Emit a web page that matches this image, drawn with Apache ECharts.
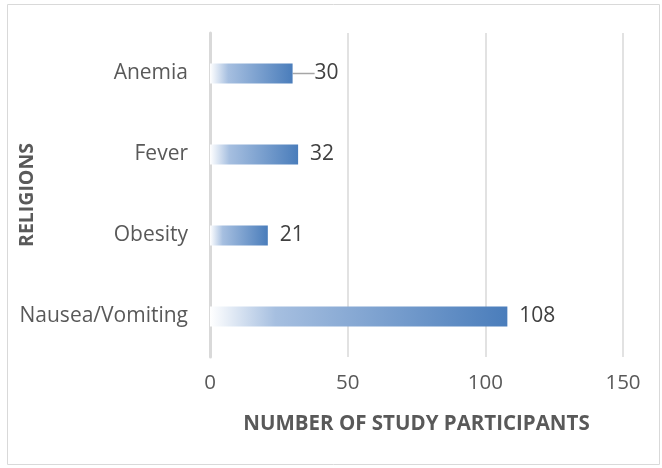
<!DOCTYPE html>
<html>
<head>
<meta charset="utf-8">
<script src="https://cdn.jsdelivr.net/npm/echarts@6/dist/echarts.min.js"></script>
<style>
  html, body { margin: 0; padding: 0; background: #fff; }
  #main { width: 662px; height: 468px; }
</style>
</head>
<body>
<div id="main"></div>
<script>
const categories = ["Nausea/Vomiting", "Obesity", "Fever", "Anemia"];
const participants = [108, 21, 32, 30];
const xTicks = [0, 50, 100, 150];

const chart = echarts.init(document.getElementById("main"));
const textColor = "#595959";
const font = "'Open Sans', sans-serif";

// only the Anemia label has a leader line in the original
const barData = participants.map((v, i) =>
    i === 3 ? { value: v, labelLine: { show: true } } : v
);

const option = {
    animation: false,
    graphic: [{
        type: "rect",
        shape: { x: 7.5, y: 4.5, width: 652, height: 460 },
        style: { fill: "none", stroke: "#d9d9d9", lineWidth: 1 },
        silent: true
    }],
    grid: { left: 210, right: 39, top: 33, bottom: 111, outerBoundsMode: "none", containLabel: false },
    xAxis: {
        type: "value",
        min: xTicks[0],
        max: xTicks[xTicks.length - 1],
        interval: 50,
        name: "NUMBER OF STUDY PARTICIPANTS",
        nameLocation: "middle",
        nameGap: 57,
        nameMoveOverlap: false,
        nameTextStyle: { color: textColor, fontSize: 20.5, fontWeight: "bold", fontFamily: font },
        axisLine: { show: false },
        axisTick: { show: false },
        axisLabel: { color: textColor, fontSize: 20.5, fontFamily: font, margin: 16 },
        splitLine: { lineStyle: { color: "#d9d9d9", width: 1.5 } }
    },
    yAxis: {
        type: "category",
        data: categories,
        name: "RELIGIONS",
        nameLocation: "middle",
        nameGap: 173,
        nameMoveOverlap: false,
        nameRotate: 90,
        nameTextStyle: { color: textColor, fontSize: 19.5, fontWeight: "bold", fontFamily: font },
        axisLine: { lineStyle: { color: "#d9d9d9", width: 3 } },
        axisTick: { show: false },
        axisLabel: { color: textColor, fontSize: 21, fontFamily: font, margin: 22 }
    },
    series: [{
        type: "bar",
        data: barData,
        barWidth: 20,
        itemStyle: {
            color: new echarts.graphic.LinearGradient(0, 0, 1, 0, [
                { offset: 0, color: "#ffffff" },
                { offset: 0.22, color: "#a6bfe0" },
                { offset: 1, color: "#4a7dbb" }
            ])
        },
        label: {
            show: true,
            position: "right",
            distance: 12,
            color: "#404040",
            fontSize: 21,
            fontFamily: font
        },
        labelLine: { show: false, lineStyle: { color: "#a6a6a6", width: 1.5 } },
        labelLayout: function (params) {
            return params.dataIndex === 3 ? { dx: 10 } : {};
        }
    }]
};

chart.setOption(option);
</script>
</body>
</html>
